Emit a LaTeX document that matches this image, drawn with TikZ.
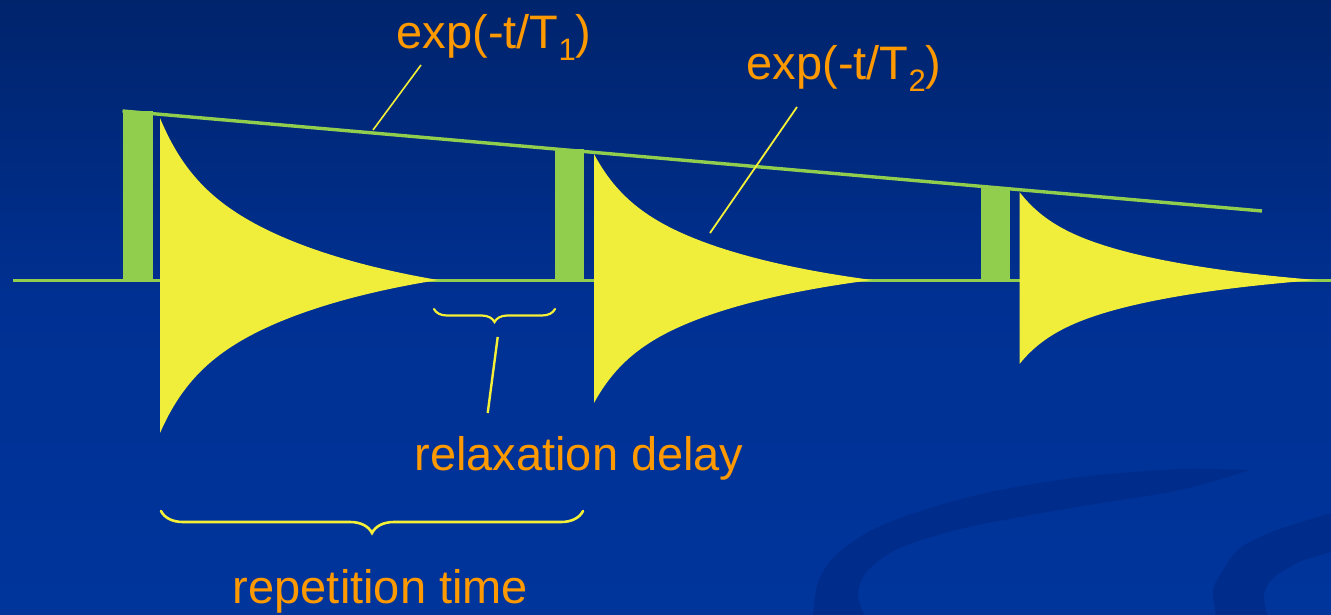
\documentclass[tikz,border=0pt]{standalone}
\usepackage{fontspec}
\setmainfont{Liberation Sans}
\usetikzlibrary{decorations.pathreplacing}
\definecolor{bgtop}{RGB}{0,36,108}
\definecolor{bgmid}{RGB}{0,48,146}
\definecolor{bgbot}{RGB}{0,53,156}
\definecolor{swooshc}{RGB}{0,45,140}
\definecolor{pulsegreen}{RGB}{146,206,78}
\definecolor{fidyellow}{RGB}{240,238,58}
\definecolor{labelorange}{RGB}{255,153,0}
\definecolor{pointeryellow}{RGB}{245,240,55}
\newcommand{\lsub}[1]{\raisebox{-0.24em}{\fontsize{31}{31}\selectfont #1}}
% FID envelope: fast exponential plus slow exponential (offset so it reaches zero at length L)
% args: x0, L, Atop, Abot
\newcommand{\fidshape}[4]{%
  \fill[fidyellow] plot[domain=0:#2,samples=160,variable=\d]
    ({#1+\d},{280-#3*(0.3*exp(-\d/30)+0.7*(exp(-\d/180)-exp(-#2/180))/(1-exp(-#2/180)))})
    -- plot[domain=#2:0,samples=160,variable=\d]
    ({#1+\d},{280+#4*(0.3*exp(-\d/30)+0.7*(exp(-\d/180)-exp(-#2/180))/(1-exp(-#2/180)))}) -- cycle;}
\begin{document}
\begin{tikzpicture}[x=1pt,y=-1pt,
  lbl/.style={text=labelorange,font=\fontsize{47}{47}\selectfont,inner sep=0pt,anchor=base},
  greenline/.style={draw=pulsegreen,line width=3pt},
  pulsebox/.style={fill=pulsegreen},
  pointer/.style={draw=pointeryellow,line width=1.8pt},
  bracestyle/.style={draw=pointeryellow,line width=2.6pt,line cap=round,decorate}]
\useasboundingbox (0,0) rectangle (1331,615);
% background
\shade[top color=bgtop,bottom color=bgmid] (0,0) rectangle (1331,301);
\shade[top color=bgmid,bottom color=bgbot] (0,300) rectangle (1331,615);
% swooshes
\fill[swooshc] plot[smooth] coordinates {(813,615) (818,582) (836,555) (870,531) (920,511) (990,492) (1080,477) (1180,469) (1250,470)}
  -- plot[smooth] coordinates {(1250,470) (1180,490) (1071,508) (969,527) (902,547) (868,570) (858,593) (864,615)} -- cycle;
\fill[swooshc] plot[smooth] coordinates {(1216,615) (1213,590) (1223,570) (1240,548) (1274,531) (1331,513)}
  -- (1331,552) -- plot[smooth] coordinates {(1301,561) (1274,577) (1264,594) (1267,615)} -- cycle;
% baseline
\coordinate (bl0) at (13,280);
\coordinate (bl1) at (1331,280);
\draw[greenline] (bl0) -- (bl1);
% FIDs
\fidshape{160}{278}{162}{153}
\fidshape{594}{278}{126}{123}
\fidshape{1019.5}{297}{88}{84}
% pulses
\fill[pulsebox] (122.5,111) rectangle (152.5,280);
\fill[pulsebox] (554.5,149.5) rectangle (584,280);
\fill[pulsebox] (980.7,187) rectangle (1010.3,280);
% T1 envelope
\coordinate (env0) at (122.5,111);
\coordinate (env1) at (1262,211);
\draw[greenline,line width=3.4pt] (env0) -- (env1);
% labels
\node[lbl] (t1lbl) at (494,49) {exp(-t/T\lsub{1})};
\node[lbl] (t2lbl) at (844,80) {exp(-t/T\lsub{2})};
\node[lbl] (rdlbl) at (579,470) {relaxation delay};
\node[lbl] (rtlbl) at (380.5,603) {repetition time};
% pointers
\coordinate (p1a) at (421,65);
\coordinate (p1b) at (373,130);
\coordinate (p2a) at (797,107);
\coordinate (p2b) at (710,233);
\coordinate (p3a) at (497.7,337);
\coordinate (p3b) at (487.7,413);
\draw[pointer,line width=1.6pt] (p1a) -- (p1b);
\draw[pointer,line width=1.8pt] (p2a) -- (p2b);
\draw[pointer,line width=2.4pt] (p3a) -- (p3b);
% braces
\coordinate (rb0) at (434,309);
\coordinate (rb1) at (555,309);
\coordinate (tb0) at (161,511);
\coordinate (tb1) at (583,511);
\draw[bracestyle,line width=2.2pt,decoration={brace,mirror,amplitude=13pt}] (rb0) -- (rb1);
\draw[bracestyle,decoration={brace,mirror,amplitude=22pt}] (tb0) -- (tb1);
\end{tikzpicture}
\end{document}
